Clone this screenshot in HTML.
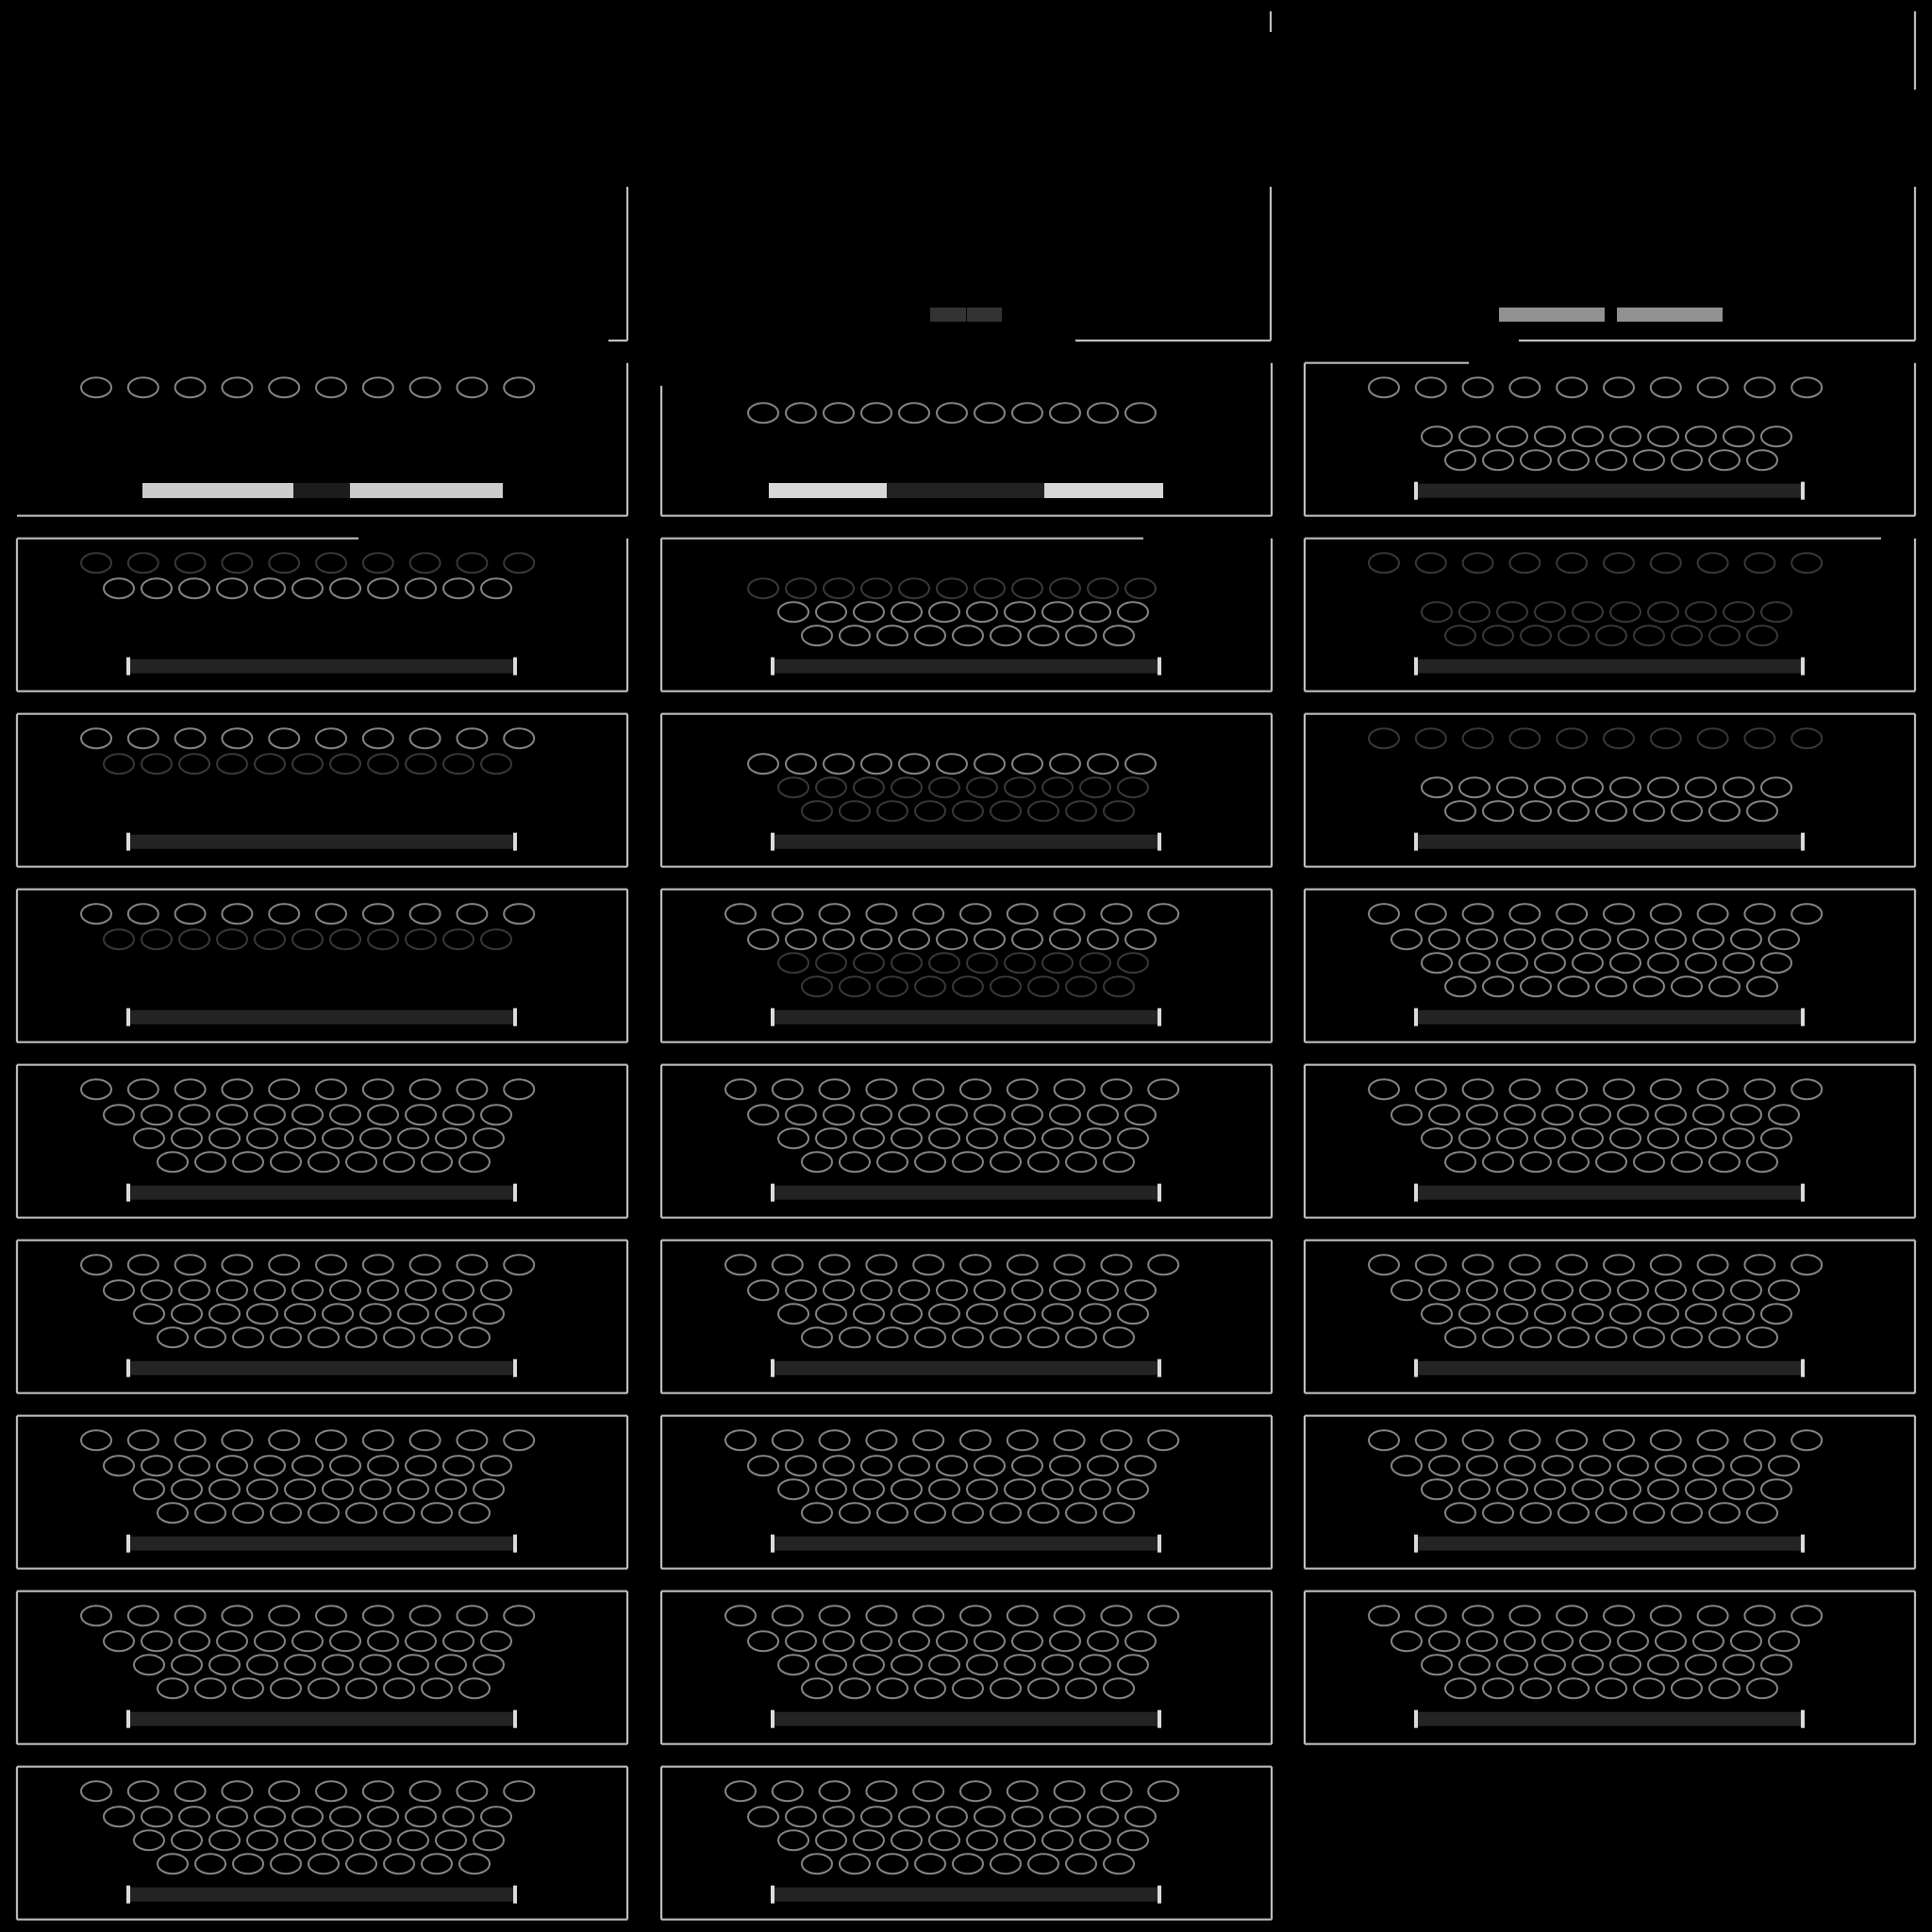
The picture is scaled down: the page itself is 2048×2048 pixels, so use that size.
<!DOCTYPE html>
<html><head><meta charset="utf-8"><style>html,body{margin:0;padding:0;background:#000;width:2048px;height:2048px;overflow:hidden}svg{display:block}</style></head>
<body>
<svg id="s" width="2048" height="2048" viewBox="0 0 2048 2048" xmlns="http://www.w3.org/2000/svg"></svg>
<script>
var s=document.getElementById('s'),out=[];
var COLS=[18,701,1383],W=647,H=162;
function rowTop(r){return 384.7+186*r;}
var B='#bdbdbd',BR='#858585',DM='#383838';
function line(x1,y1,x2,y2){out.push('<line x1="'+x1+'" y1="'+y1+'" x2="'+x2+'" y2="'+y2+'" stroke="'+B+'" stroke-width="2.2"/>');}
var RT={A:{n:10,off:84,sp:49.8,y:26},B:{n:11,off:108,sp:40,y:53},C:{n:10,off:140,sp:40,y:78},D:{n:9,off:165,sp:40,y:103}};
function circ(L,T,k,col){var r=RT[k];for(var i=0;i<r.n;i++){out.push('<ellipse cx="'+(L+r.off+i*r.sp)+'" cy="'+(T+r.y)+'" rx="16" ry="10.5" fill="none" stroke="'+col+'" stroke-width="2"/>');}}
function bar(L,T){out.push('<rect x="'+(L+118)+'" y="'+(T+128)+'" width="410" height="15" fill="#242424"/>');
out.push('<rect x="'+(L+116)+'" y="'+(T+126)+'" width="4" height="19" fill="#dcdcdc"/>');
out.push('<rect x="'+(L+526)+'" y="'+(T+126)+'" width="4" height="19" fill="#dcdcdc"/>');}
function rect(x,y,w,h,f){out.push('<rect x="'+x+'" y="'+y+'" width="'+w+'" height="'+h+'" fill="'+f+'"/>');}
function box(L,T){line(L,T,L+W,T);line(L,T,L,T+H);line(L+W,T,L+W,T+H);line(L,T+H,L+W,T+H);}
// row -2
line(1347,12,1347,34);line(2030,12,2030,95);
// row -1
line(665,198,665,361);line(645,361,665,361);
line(1347,198,1347,361);line(1140,361,1347,361);
rect(986,326,38,15,'#333');rect(1025,326,37,15,'#333');
line(2030,198,2030,361);line(1610,361,2030,361);
rect(1589,326,112,15,'#919191');rect(1714,326,112,15,'#919191');
// row 0
var T=rowTop(0),L;
L=COLS[0];line(L+W,T,L+W,T+H);line(L,T+H,L+W,T+H);circ(L,T,'A',BR);
rect(151,512,160,16,'#cccccc');rect(311,512,60,16,'#1c1c1c');rect(371,512,162,16,'#cccccc');
L=COLS[1];line(L,409,L,T+H);line(L+W,T,L+W,T+H);line(L,T+H,L+W,T+H);circ(L,T,'B',BR);
rect(815,512,125,16,'#d8d8d8');rect(940,512,167,16,'#222');rect(1107,512,126,16,'#d8d8d8');
L=COLS[2];line(L,T,1557,T);line(L,T,L,T+H);line(L+W,T,L+W,T+H);line(L,T+H,L+W,T+H);
circ(L,T,'A',BR);circ(L,T,'C',BR);circ(L,T,'D',BR);bar(L,T);
// row 1
T=rowTop(1);
L=COLS[0];line(L,T,380,T);line(L,T,L,T+H);line(L+W,T,L+W,T+H);line(L,T+H,L+W,T+H);
circ(L,T,'A',DM);circ(L,T,'B',BR);bar(L,T);
L=COLS[1];line(L,T,1212,T);line(L,T,L,T+H);line(L+W,T,L+W,T+H);line(L,T+H,L+W,T+H);
circ(L,T,'B',DM);circ(L,T,'C',BR);circ(L,T,'D',BR);bar(L,T);
L=COLS[2];line(L,T,1994,T);line(L,T,L,T+H);line(L+W,T,L+W,T+H);line(L,T+H,L+W,T+H);
circ(L,T,'A',DM);circ(L,T,'C',DM);circ(L,T,'D',DM);bar(L,T);
// row 2
T=rowTop(2);
L=COLS[0];box(L,T);circ(L,T,'A',BR);circ(L,T,'B',DM);bar(L,T);
L=COLS[1];box(L,T);circ(L,T,'B',BR);circ(L,T,'C',DM);circ(L,T,'D',DM);bar(L,T);
L=COLS[2];box(L,T);circ(L,T,'A',DM);circ(L,T,'C',BR);circ(L,T,'D',BR);bar(L,T);
// row 3
T=rowTop(3);
L=COLS[0];box(L,T);circ(L,T,'A',BR);circ(L,T,'B',DM);bar(L,T);
L=COLS[1];box(L,T);circ(L,T,'A',BR);circ(L,T,'B',BR);circ(L,T,'C',DM);circ(L,T,'D',DM);bar(L,T);
L=COLS[2];box(L,T);['A','B','C','D'].forEach(function(k){circ(L,T,k,BR);});bar(L,T);
// rows 4-8
for(var r=4;r<=8;r++){T=rowTop(r);for(var c=0;c<3;c++){if(r==8&&c==2)continue;L=COLS[c];box(L,T);
['A','B','C','D'].forEach(function(k){circ(L,T,k,BR);});bar(L,T);}}
s.innerHTML=out.join('');
</script>
</body></html>
